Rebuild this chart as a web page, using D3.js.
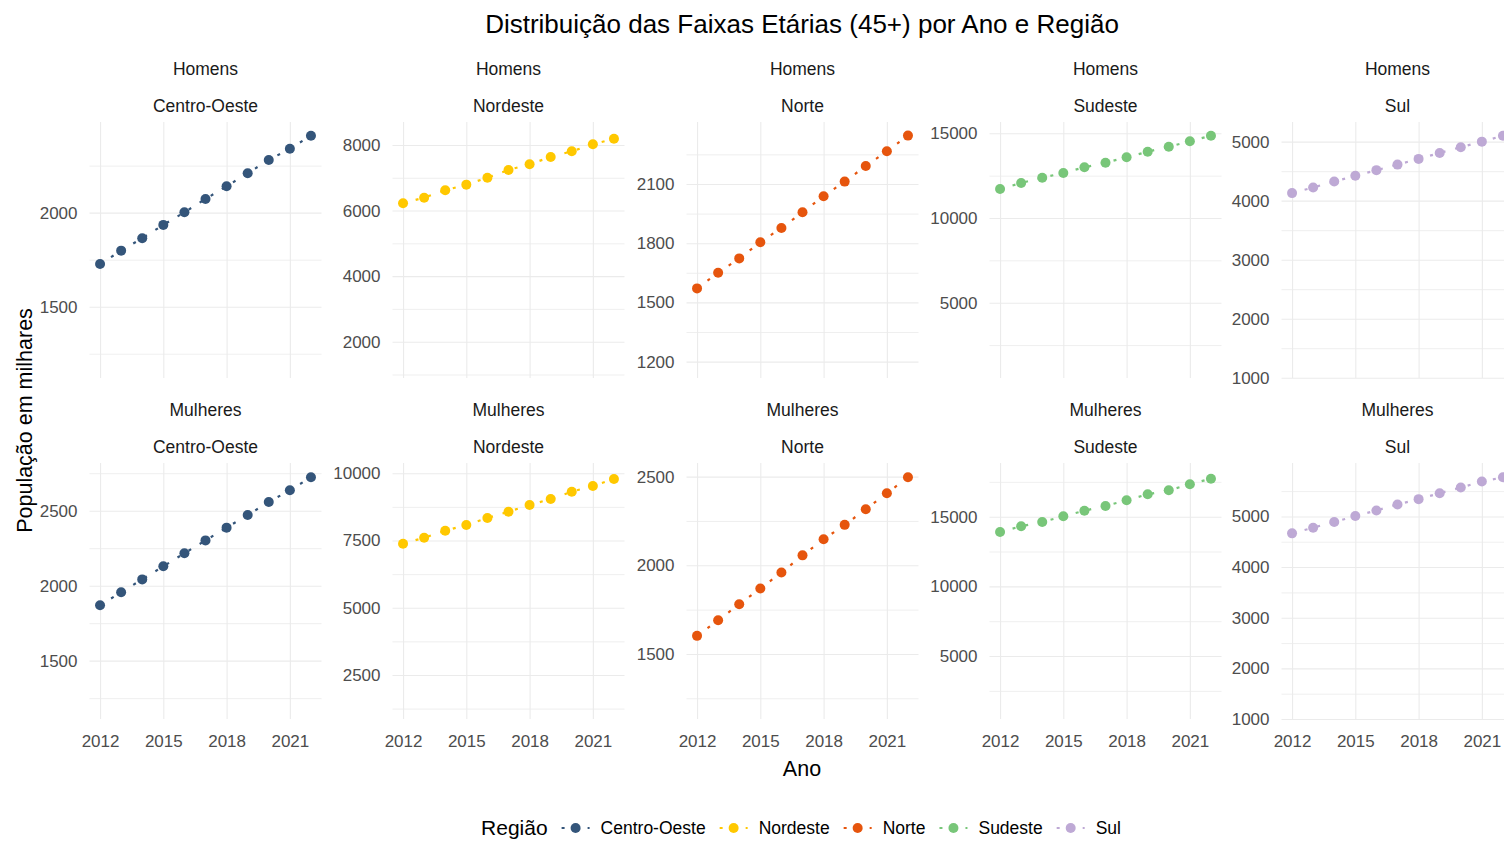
<!DOCTYPE html>
<html>
<head>
<meta charset="utf-8">
<script src="https://cdn.jsdelivr.net/npm/d3@7"></script>
<style>
  body { margin: 0; background: #fff; }
  text { font-family: "Liberation Sans", Arial, sans-serif; }
  .tick text { fill: #4d4d4d; font-size: 17px; }
  .grid line { stroke: #ebebeb; stroke-width: 1.1; }
  .grid.minor line { stroke-width: 0.8; }
  .grid .domain { display: none; }
</style>
</head>
<body>
<svg id="chart"></svg>
<script>
var svgWidth = 1504;
var svgHeight = 841;

// data (population 45+, thousands)
var years = [2012, 2013, 2014, 2015, 2016, 2017, 2018, 2019, 2020, 2021, 2022];
var regions = ["Centro-Oeste", "Nordeste", "Norte", "Sudeste", "Sul"];
var regionColors = ["#34557a", "#ffc800", "#e6550d", "#78c679", "#bea9d5"];
var sexes = ["Homens", "Mulheres"];

var homensCentroOeste = [1727, 1798, 1864, 1935, 2002, 2073, 2140, 2210, 2280, 2340, 2409];
var homensNordeste = [6223, 6393, 6619, 6790, 7003, 7238, 7412, 7634, 7807, 8020, 8192];
var homensNorte = [1571, 1650, 1723, 1805, 1877, 1957, 2038, 2112, 2191, 2266, 2345];
var homensSudeste = [11712, 12066, 12379, 12656, 12993, 13264, 13583, 13914, 14209, 14528, 14858];
var homensSul = [4128, 4223, 4324, 4421, 4517, 4611, 4708, 4809, 4905, 5000, 5101];

var mulheresCentroOeste = [1869, 1956, 2042, 2129, 2216, 2302, 2387, 2471, 2558, 2636, 2723];
var mulheresNordeste = [7381, 7604, 7865, 8077, 8337, 8571, 8821, 9044, 9316, 9528, 9788];
var mulheresNorte = [1602, 1690, 1780, 1869, 1959, 2056, 2147, 2228, 2316, 2406, 2497];
var mulheresSudeste = [13902, 14311, 14620, 15029, 15430, 15768, 16176, 16607, 16894, 17324, 17726];
var mulheresSul = [4666, 4778, 4890, 5007, 5118, 5236, 5341, 5459, 5570, 5688, 5774];

// free y scales per panel
var homensLimits = [[1121, 2482], [893, 8701], [1117, 2414], [555, 15667], [995, 5333]];
var mulheresLimits = [[1111, 2818], [863, 10383], [1133, 2577], [481, 18852], [1000, 6055]];
var homensTicks = [[1500, 2000], [2000, 4000, 6000, 8000], [1200, 1500, 1800, 2100], [5000, 10000, 15000], [1000, 2000, 3000, 4000, 5000]];
var mulheresTicks = [[1500, 2000, 2500], [2500, 5000, 7500, 10000], [1500, 2000, 2500], [5000, 10000, 15000], [1000, 2000, 3000, 4000, 5000]];
var xTicks = [2012, 2015, 2018, 2021];

var rows = [
  { sex: sexes[0], values: [homensCentroOeste, homensNordeste, homensNorte, homensSudeste, homensSul], limits: homensLimits, ticks: homensTicks },
  { sex: sexes[1], values: [mulheresCentroOeste, mulheresNordeste, mulheresNorte, mulheresSudeste, mulheresSul], limits: mulheresLimits, ticks: mulheresTicks }
];

var panelW = 232;
var panelH = 256;
var panelLefts = [89.5, 392.5, 686.5, 989.5, 1281.5];
var rowTops = [122, 463];

var svg = d3.select("#chart")
  .attr("width", svgWidth)
  .attr("height", svgHeight);

var fmt = d3.format("d");

rows.forEach(function(row, r) {
  regions.forEach(function(region, c) {
    var g = svg.append("g")
      .attr("transform", `translate(${panelLefts[c]}, ${rowTops[r]})`);

    var x = d3.scaleLinear().domain([2011.5, 2022.5]).range([0, panelW]);
    var y = d3.scaleLinear().domain(row.limits[c]).range([panelH, 0]);

    // minor breaks halfway between the major ones
    var ticks = row.ticks[c];
    var step = ticks[1] - ticks[0];
    var minors = [];
    for (var v = ticks[0] - step / 2; v <= row.limits[c][1]; v += step) {
      if (v >= row.limits[c][0]) minors.push(v);
    }

    g.append("g")
      .attr("class", "grid minor")
      .call(d3.axisLeft(y).tickValues(minors).tickSize(-panelW).tickFormat(""));

    g.append("g")
      .attr("class", "grid")
      .call(d3.axisLeft(y).tickValues(ticks).tickSize(-panelW).tickPadding(12).tickFormat(fmt));

    g.append("g")
      .attr("class", "grid")
      .attr("transform", `translate(0, ${panelH})`)
      .call(d3.axisBottom(x).tickValues(xTicks).tickSize(-panelH).tickPadding(16)
        .tickFormat(r === rows.length - 1 ? fmt : ""));

    var line = d3.line()
      .x((d, i) => x(years[i]))
      .y(d => y(d));

    g.append("path")
      .datum(row.values[c])
      .attr("d", line)
      .attr("fill", "none")
      .attr("stroke", regionColors[c])
      .attr("stroke-width", 2.2)
      .attr("stroke-dasharray", "3,10");

    g.selectAll("circle")
      .data(row.values[c])
      .enter()
      .append("circle")
      .attr("cx", (d, i) => x(years[i]))
      .attr("cy", d => y(d))
      .attr("r", 5)
      .attr("fill", regionColors[c]);

    // two-line strip labels
    g.append("text")
      .attr("x", panelW / 2)
      .attr("y", -47)
      .attr("text-anchor", "middle")
      .style("font-size", "17.5px")
      .style("fill", "#1a1a1a")
      .text(row.sex);

    g.append("text")
      .attr("x", panelW / 2)
      .attr("y", -10)
      .attr("text-anchor", "middle")
      .style("font-size", "17.5px")
      .style("fill", "#1a1a1a")
      .text(region);
  });
});

svg.append("text")
  .attr("x", 802)
  .attr("y", 33)
  .attr("text-anchor", "middle")
  .style("font-size", "26px")
  .style("fill", "#000")
  .text("Distribuição das Faixas Etárias (45+) por Ano e Região");

svg.append("text")
  .attr("transform", "translate(32, 420.5) rotate(-90)")
  .attr("text-anchor", "middle")
  .style("font-size", "21.5px")
  .style("fill", "#000")
  .text("População em milhares");

svg.append("text")
  .attr("x", 802)
  .attr("y", 776)
  .attr("text-anchor", "middle")
  .style("font-size", "21.5px")
  .style("fill", "#000")
  .text("Ano");

// legend
var legend = svg.append("g");
var lx = 0;
var legendTitle = legend.append("text")
  .attr("x", 0)
  .attr("y", 835)
  .style("font-size", "21px")
  .style("fill", "#000")
  .text("Região");
lx = legendTitle.node().getComputedTextLength() + 14;

regions.forEach(function(region, i) {
  legend.append("line")
    .attr("x1", lx).attr("x2", lx + 28)
    .attr("y1", 828).attr("y2", 828)
    .attr("stroke", regionColors[i])
    .attr("stroke-width", 2.2)
    .attr("stroke-dasharray", "3,10");
  legend.append("circle")
    .attr("cx", lx + 14)
    .attr("cy", 828)
    .attr("r", 5)
    .attr("fill", regionColors[i]);
  var t = legend.append("text")
    .attr("x", lx + 39)
    .attr("y", 834)
    .style("font-size", "17.5px")
    .style("fill", "#000")
    .text(region);
  lx += 39 + t.node().getComputedTextLength() + 14;
});
lx -= 14;
legend.attr("transform", `translate(${801 - lx / 2}, 0)`);
</script>
</body>
</html>
